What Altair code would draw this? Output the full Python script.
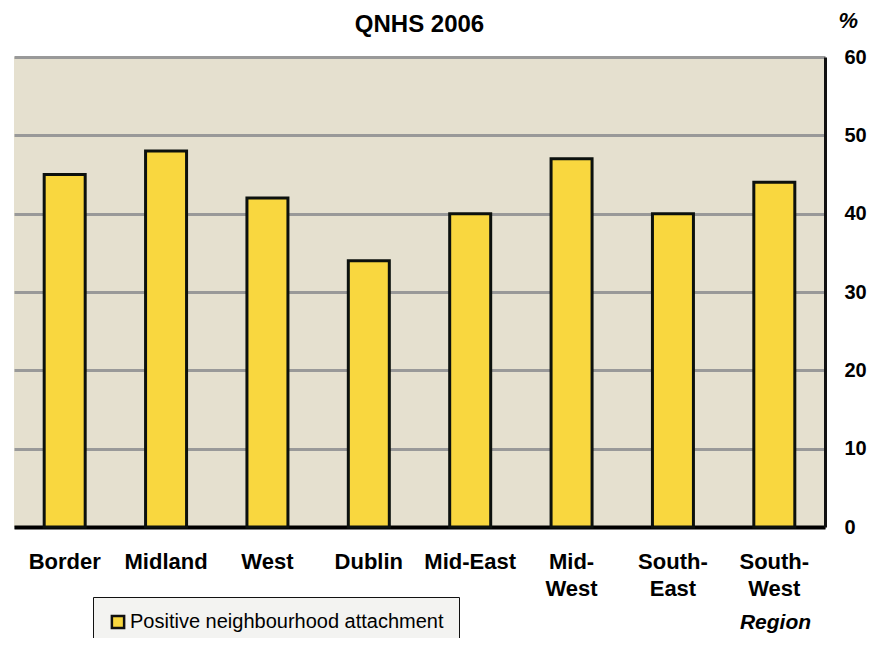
import altair as alt
import pandas as pd

regions = ["Border", "Midland", "West", "Dublin", "Mid-East", "Mid-West", "South-East", "South-West"]
values = [45, 48, 42, 34, 40, 47, 40, 44]
series_name = "Positive neighbourhood attachment"
y_ticks = [0, 10, 20, 30, 40, 50, 60]

df = pd.DataFrame({"Region": regions, "Value": values, "Series": [series_name] * len(regions)})

FONT = "Liberation Sans"

label_expr = ("datum.label === 'Mid-East' ? datum.label : "
              "split(replace(datum.label, '-', '-|'), '|')")

chart = alt.Chart(df).mark_bar(size=41, stroke="#0c110e", strokeWidth=3).encode(
    x=alt.X("Region:N", sort=regions,
            scale=alt.Scale(paddingInner=0, paddingOuter=0),
            axis=alt.Axis(title="Region", titleFont=FONT, titleFontSize=21, titleFontWeight="bold",
                          titleFontStyle="italic", titleColor="black", titleX=761, titleY=95,
                          titleAlign="center", titleBaseline="middle", titleAngle=0,
                          labelAngle=0, labelFont=FONT, labelFontSize=22, labelFontWeight="bold",
                          labelColor="black", labelPadding=24, labelLineHeight=27,
                          labelExpr=label_expr, ticks=False, tickSize=0,
                          domainColor="black", domainWidth=4, grid=False)),
    y=alt.Y("Value:Q", scale=alt.Scale(domain=[0, 60]),
            axis=alt.Axis(orient="right", values=y_ticks, title="%", titleAngle=0,
                          titleX=13, titleY=-37, titleAlign="left", titleBaseline="middle",
                          titleFont=FONT, titleFontSize=22, titleFontWeight="bold",
                          titleFontStyle="italic", titleColor="black",
                          labelFont=FONT, labelFontSize=20, labelFontWeight="bold",
                          labelColor="black", labelPadding=19, ticks=False, tickSize=0,
                          domainColor="#111111", domainWidth=3,
                          grid=True, gridColor="#999999", gridWidth=3)),
    color=alt.Color("Series:N", scale=alt.Scale(range=["#F9D73F"]),
                    legend=alt.Legend(title=None, orient="none", legendX=79, legendY=540,
                                      fillColor="#F3F3F1", strokeColor="#111111", padding=15,
                                      symbolType="square", symbolSize=150,
                                      symbolStrokeColor="#111111", symbolStrokeWidth=2.5,
                                      labelFont=FONT, labelFontSize=20, labelColor="black",
                                      labelOffset=2, labelLimit=400)),
).properties(
    width=811, height=470,
    title=alt.TitleParams("QNHS 2006", font=FONT, fontSize=24, fontWeight="bold",
                          color="black", anchor="middle", offset=6, dy=34),
    autosize=alt.AutoSizeParams(type="none"),
    padding={"left": 6, "top": 49, "right": 42, "bottom": 111},
    background="white",
).configure_view(fill="#E5E0CF", strokeWidth=0)

chart.save("out.html", embed_options={"renderer": "svg", "actions": False})
